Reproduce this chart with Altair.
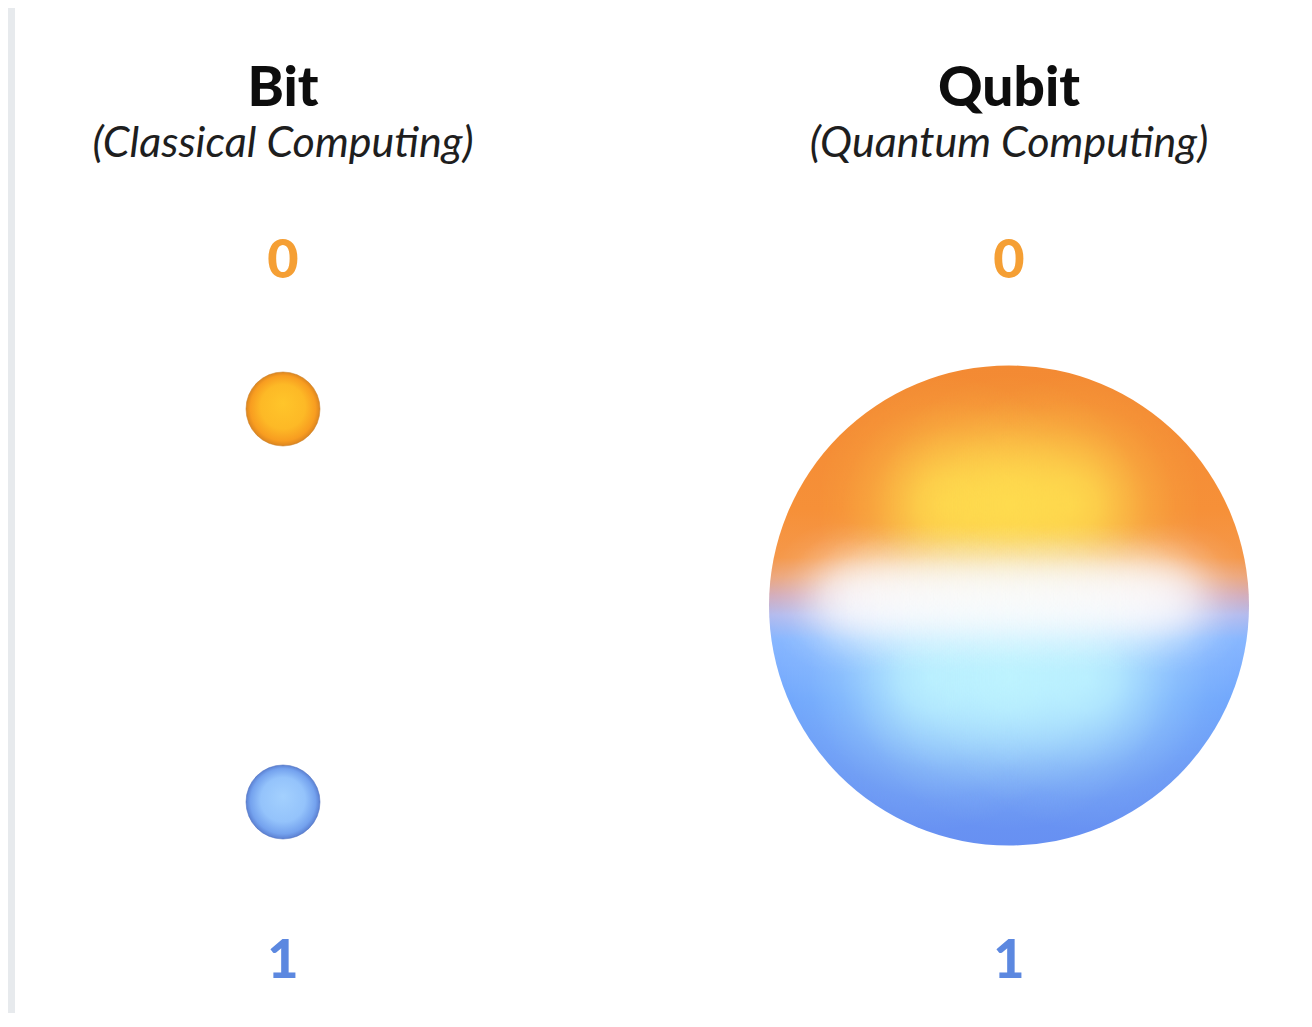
import altair as alt
import pandas as pd

# ---- data ----
columns = [0, 1]
titles = ["Bit", "Qubit"]
subtitles = ["(Classical Computing)", "(Quantum Computing)"]
title_level = [1.771, 1.771]
subtitle_level = [1.641, 1.641]

label_cols = [0, 0, 1, 1]
label_text = ["0", "1", "0", "1"]
label_level = [1.333, -0.448, 1.333, -0.448]

bit_col = [0]
bit_zero_level = [1]
bit_one_level = [0]

qubit_col = [1]
qubit_level = [0.5]

ORANGE = "#f59f34"
BLUE = "#5c88e0"

titles_df = pd.DataFrame({"col": columns, "title": titles, "subtitle": subtitles,
                          "tl": title_level, "sl": subtitle_level})
labels_df = pd.DataFrame({"col": label_cols, "label": label_text, "level": label_level})
zero_df = pd.DataFrame({"col": bit_col, "level": bit_zero_level})
one_df = pd.DataFrame({"col": bit_col, "level": bit_one_level})
qubit_df = pd.DataFrame({"col": qubit_col, "level": qubit_level})

xs = alt.Scale(domain=[0, 1], range=[268, 994])
ys = alt.Scale(domain=[0, 1], range=[794, 401])


def X():
    return alt.X("col:Q", scale=xs, axis=None)


def Y(field="level"):
    return alt.Y(f"{field}:Q", scale=ys, axis=None)


def stops(pairs):
    return [alt.GradientStop(offset=o, color=c) for o, c in pairs]


title_layer = alt.Chart(titles_df).mark_text(
    font="Lato", fontSize=55, fontWeight=900, color="#0d0d0d",
    align="center", baseline="alphabetic"
).encode(x=X(), y=Y("tl"), text="title:N")

subtitle_layer = alt.Chart(titles_df).mark_text(
    font="Lato", fontSize=43, fontStyle="italic", color="#1e1e1e",
    align="center", baseline="alphabetic"
).encode(x=X(), y=Y("sl"), text="subtitle:N")

label_layer = alt.Chart(labels_df).mark_text(
    font="Lato", fontSize=54, fontWeight=900,
    align="center", baseline="alphabetic"
).encode(
    x=X(), y=Y(), text="label:N",
    color=alt.Color("label:N", scale=alt.Scale(domain=["0", "1"], range=[ORANGE, BLUE]), legend=None),
)

small_size = 5476
zero_ball = alt.Chart(zero_df).mark_circle(
    size=small_size, opacity=1, stroke="#c9822a", strokeWidth=0.8, strokeOpacity=0.7,
    fill=alt.RadialGradient(
        gradient="radial", x1=0.5, y1=0.42, r1=0, x2=0.5, y2=0.5, r2=0.5,
        stops=stops([(0, "#ffc52a"), (0.6, "#fdb926"), (0.88, "#f89d20"), (1, "#dc8520")]),
    ),
).encode(x=X(), y=Y())

one_ball = alt.Chart(one_df).mark_circle(
    size=small_size, opacity=1, stroke="#4f72c0", strokeWidth=0.8, strokeOpacity=0.7,
    fill=alt.RadialGradient(
        gradient="radial", x1=0.5, y1=0.42, r1=0, x2=0.5, y2=0.5, r2=0.5,
        stops=stops([(0, "#a3d0fe"), (0.6, "#94c3fb"), (0.88, "#74a2ee"), (1, "#5b80d2")]),
    ),
).encode(x=X(), y=Y())

big_size = 230400


def sphere_layer(fill):
    return alt.Chart(qubit_df).mark_circle(size=big_size, opacity=1, fill=fill).encode(x=X(), y=Y())


# smooth (bell-shaped) fall-off used by every glow
FALLOFF = [(0, 1.0), (0.2, 0.87), (0.4, 0.57), (0.6, 0.28), (0.8, 0.09), (1.0, 0.0)]


def glow(cx, cy, r, rgb, peak):
    return alt.RadialGradient(
        gradient="radial", x1=cx, y1=cy, r1=0, x2=cx, y2=cy, r2=r,
        stops=stops([(o, f"rgba({rgb},{round(a * peak, 3)})") for o, a in FALLOFF]),
    )


# sphere: rim colours from top to bottom, then glows for the lit centre
sphere_base = sphere_layer(alt.LinearGradient(
    gradient="linear", x1=0, y1=0, x2=0, y2=1,
    stops=stops([
        (0.0, "#f38a33"), (0.3, "#f69038"), (0.4, "#f5984a"),
        (0.44, "#eca67c"), (0.48, "#d2acbc"), (0.52, "#b2baee"),
        (0.57, "#88b7ff"), (0.7, "#70a6fc"), (0.85, "#6b98f4"), (1.0, "#6790f2"),
    ]),
))

yellow_layers = [sphere_layer(glow(gx, 0.29, 0.27, "255,226,80", 0.8)) for gx in (0.37, 0.5, 0.63)]
cyan_layers = [sphere_layer(glow(gx, 0.65, 0.32, "196,250,255", 0.8)) for gx in (0.34, 0.5, 0.66)]
band_x = [0.15, 0.2, 0.25, 0.3, 0.35, 0.4, 0.45, 0.5, 0.55, 0.6, 0.65, 0.7, 0.75, 0.8, 0.85]
band_layers = [sphere_layer(glow(bx, 0.485, 0.16, "255,255,255", 0.55)) for bx in band_x]

chart = alt.layer(
    sphere_base, *yellow_layers, *cyan_layers, *band_layers,
    zero_ball, one_ball, title_layer, subtitle_layer, label_layer,
).properties(
    width=1289, height=1005,
    padding={"left": 7, "top": 0, "right": 0, "bottom": 0},
    background="#e7eaed",
).configure_view(fill="white", strokeWidth=0)

chart.save("out.html", embed_options={"renderer": "svg", "actions": False})
